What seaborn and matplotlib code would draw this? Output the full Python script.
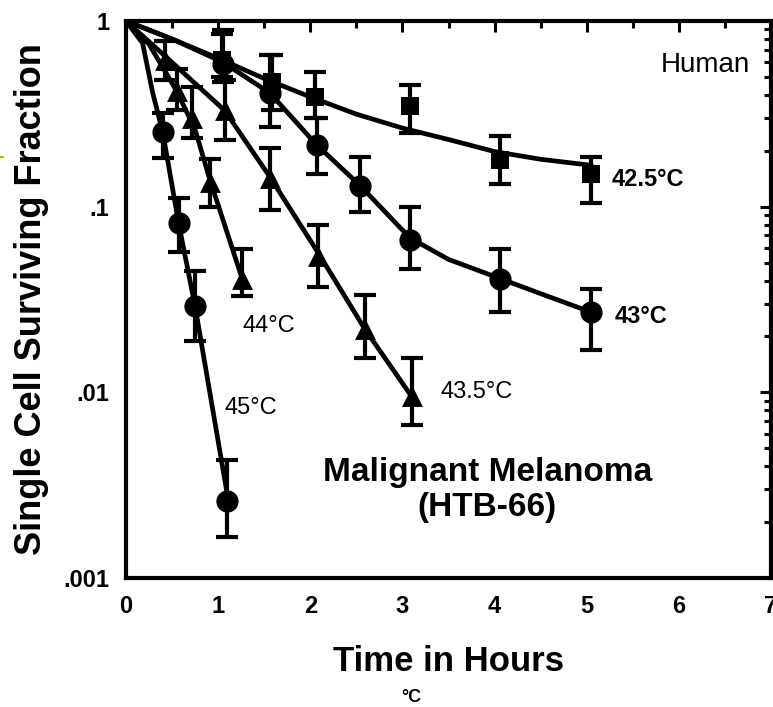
import matplotlib
matplotlib.use("Agg")
import matplotlib.pyplot as plt
from matplotlib.lines import Line2D
from matplotlib.ticker import FixedLocator, FixedFormatter, LogLocator, NullFormatter, MultipleLocator
import seaborn as sns
import numpy as np

sns.set_theme(style="white")
plt.rcParams['font.family'] = ['Liberation Sans', 'DejaVu Sans']
plt.rcParams['text.color'] = 'black'
plt.rcParams['axes.labelcolor'] = 'black'
plt.rcParams['xtick.color'] = 'black'
plt.rcParams['ytick.color'] = 'black'

# ---- data: measured points (time h, surviving fraction, error low/high) ----
t_425 = [1.04, 1.58, 2.05, 3.08, 4.06, 5.05]
y_425 = [0.62, 0.47, 0.39, 0.35, 0.179, 0.15]
lo_425 = [0.50, 0.33, 0.30, 0.25, 0.133, 0.105]
hi_425 = [0.85, 0.66, 0.53, 0.45, 0.24, 0.186]

t_43 = [1.05, 1.56, 2.07, 2.54, 3.08, 4.06, 5.05]
y_43 = [0.59, 0.41, 0.215, 0.13, 0.0665, 0.041, 0.027]
lo_43 = [0.47, 0.27, 0.150, 0.094, 0.046, 0.027, 0.017]
hi_43 = [0.89, 0.66, 0.30, 0.186, 0.099, 0.059, 0.036]

t_435 = [0.42, 1.07, 1.56, 2.08, 2.59, 3.10]
y_435 = [0.62, 0.33, 0.143, 0.054, 0.0218, 0.0095]
lo_435 = [0.48, 0.23, 0.096, 0.0367, 0.0154, 0.0067]
hi_435 = [0.78, 0.48, 0.207, 0.080, 0.0336, 0.0154]

t_44 = [0.55, 0.72, 0.91, 1.26]
y_44 = [0.42, 0.30, 0.135, 0.041]
lo_44 = [0.33, 0.235, 0.10, 0.033]
hi_44 = [0.55, 0.44, 0.18, 0.059]

t_45 = [0.40, 0.57, 0.75, 1.10]
y_45 = [0.253, 0.082, 0.029, 0.0026]
lo_45 = [0.183, 0.057, 0.019, 0.00166]
hi_45 = [0.32, 0.112, 0.045, 0.0043]

# ---- fitted curves ----
c425_t = [0, 0.5, 1, 1.5, 2, 2.5, 3, 3.5, 4, 4.5, 5.05]
c425_y = [1, 0.8, 0.63, 0.49, 0.39, 0.315, 0.265, 0.23, 0.198, 0.18, 0.167]
c43_t = [0, 0.5, 1.05, 1.56, 2.07, 2.54, 3.08, 3.5, 4.06, 4.5, 5.05]
c43_y = [1, 0.8, 0.6, 0.41, 0.215, 0.13, 0.068, 0.052, 0.041, 0.034, 0.027]
c435_t = [0, 0.42, 1.07, 1.56, 2.08, 2.59, 3.10]
c435_y = [1, 0.65, 0.33, 0.145, 0.057, 0.022, 0.0095]
c44_t = [0, 0.25, 0.55, 0.75, 0.91, 1.26]
c44_y = [1, 0.75, 0.42, 0.26, 0.14, 0.041]
c45_t = [0, 0.18, 0.29, 0.40, 0.57, 0.75, 1.10]
c45_y = [1, 0.76, 0.41, 0.25, 0.082, 0.029, 0.0028]

y_tick_vals = [0.001, 0.01, 0.1, 1]
y_tick_labels = ['.001', '.01', '.1', '1']
x_tick_vals = [0, 1, 2, 3, 4, 5, 6, 7]

fig = plt.figure(figsize=(7.73, 7.07), dpi=100)
ax = fig.add_axes([126/773, 1-578/707, 645/773, 557/707])

curves = [(c425_t, c425_y), (c43_t, c43_y), (c435_t, c435_y), (c44_t, c44_y), (c45_t, c45_y)]
for ct, cy in curves:
    sns.lineplot(x=ct, y=cy, ax=ax, sort=False, estimator=None, color='black', lw=3.4)

series = [
    (t_425, y_425, lo_425, hi_425, 's', 13),
    (t_43, y_43, lo_43, hi_43, 'o', 16),
    (t_435, y_435, lo_435, hi_435, '^', 15),
    (t_44, y_44, lo_44, hi_44, '^', 15),
    (t_45, y_45, lo_45, hi_45, 'o', 16),
]
for t, y, lo, hi, m, ms in series:
    y = np.array(y); lo = np.array(lo); hi = np.array(hi)
    ax.errorbar(t, y, yerr=[y - lo, hi - y], fmt='none', ecolor='black',
                elinewidth=3, capsize=8, capthick=3, zorder=3)
    sns.scatterplot(x=t, y=y, ax=ax, marker=m, s=ms**2, color='black',
                    edgecolor='black', linewidth=0, zorder=4)

ax.set_yscale('log')
ax.set_xlim(0, 7)
ax.set_ylim(0.001, 1)

ax.yaxis.set_major_locator(FixedLocator(y_tick_vals))
ax.yaxis.set_major_formatter(FixedFormatter(y_tick_labels))
ax.yaxis.set_minor_locator(LogLocator(base=10, subs=np.arange(2, 10)))
ax.yaxis.set_minor_formatter(NullFormatter())
ax.xaxis.set_major_locator(FixedLocator(x_tick_vals))
ax.xaxis.set_minor_locator(MultipleLocator(0.5))

for s in ax.spines.values():
    s.set_visible(True)
    s.set_linewidth(3)
    s.set_color('black')

ax.tick_params(axis='both', which='both', direction='in', top=True, right=True,
               color='black', width=2.2)
ax.tick_params(axis='both', which='major', length=8)
ax.tick_params(axis='both', which='minor', length=5)
ax.tick_params(axis='x', which='major', labelsize=17, pad=12, labelcolor='black')
ax.tick_params(axis='y', which='major', labelsize=17, pad=12, labelcolor='black')
for lab in ax.get_xticklabels() + ax.get_yticklabels():
    lab.set_fontweight('bold')

ax.set_ylabel('Single Cell Surviving Fraction', fontsize=26, fontweight='bold', labelpad=10, color='black')
ax.set_xlabel('Time in Hours', fontsize=25, fontweight='bold', labelpad=20, color='black')
ax.grid(False)

tr = ax.transAxes
ax.text(0.967, 0.921, 'Human', transform=tr, ha='right', va='center', fontsize=20, color='black')
ax.text(0.753, 0.715, '42.5°C', transform=tr, ha='left', va='center', fontsize=17, fontweight='bold', color='black')
ax.text(0.758, 0.470, '43°C', transform=tr, ha='left', va='center', fontsize=17, fontweight='bold', color='black')
ax.text(0.487, 0.334, '43.5°C', transform=tr, ha='left', va='center', fontsize=17, color='black')
ax.text(0.181, 0.452, '44°C', transform=tr, ha='left', va='center', fontsize=17, color='black')
ax.text(0.153, 0.305, '45°C', transform=tr, ha='left', va='center', fontsize=17, color='black')
ax.text(0.560, 0.190, 'Malignant Melanoma', transform=tr, ha='center', va='center', fontsize=24, fontweight='bold', color='black')
ax.text(0.560, 0.127, '(HTB-66)', transform=tr, ha='center', va='center', fontsize=24, fontweight='bold', color='black')

fig.text(411/773, 1-697/707, '°C', ha='center', va='center', fontsize=13, fontweight='bold', color='black')
fig.add_artist(Line2D([0, 3/773], [1-157/707, 1-157/707], color='#b5b500', lw=1.5))

fig.savefig('out.png', dpi=100)
